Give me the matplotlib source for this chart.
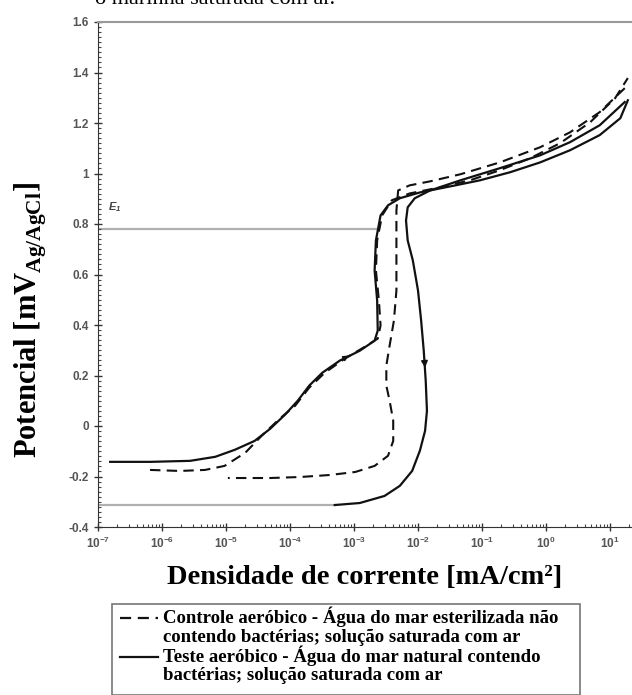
import numpy as np
import matplotlib
matplotlib.use("Agg")
import matplotlib.pyplot as plt
from matplotlib.ticker import MultipleLocator, LogLocator, FixedLocator, FixedFormatter, NullFormatter
from matplotlib.lines import Line2D
from matplotlib.patches import Rectangle

# current density [mA/cm2] and potential [V] for each branch of the loops
teste_ida_i = [1.55e-7, 6.5e-7, 2.75e-6, 6.8e-6, 1.38e-5, 2.8e-5, 4.9e-5, 8.3e-5, 1.32e-4,
               2.0e-4, 3.2e-4, 6.0e-4, 1.23e-3, 2.1e-3, 2.35e-3, 2.3e-3, 2.1e-3, 2.2e-3,
               2.6e-3, 3.4e-3, 5.2e-3, 1.07e-2, 3.2e-2, 9.3e-2, 0.275, 0.81, 2.37, 6.9, 14.5, 19]
teste_ida_e = [-0.142, -0.142, -0.138, -0.122, -0.094, -0.059, -0.011, 0.044, 0.100,
               0.160, 0.211, 0.259, 0.298, 0.338, 0.378, 0.497, 0.616, 0.735,
               0.834, 0.874, 0.902, 0.925, 0.949, 0.973, 1.005, 1.044, 1.092, 1.152, 1.219, 1.29]

teste_volta_i = [17, 6.9, 2.37, 0.81, 0.19, 4.6e-2, 1.55e-2, 8.9e-3, 6.9e-3, 6.5e-3, 6.9e-3,
                 8.3e-3, 1.0e-2, 1.12e-2, 1.23e-2, 1.32e-2, 1.38e-2, 1.29e-2, 1.07e-2,
                 8.1e-3, 5.2e-3, 3.0e-3, 1.23e-3, 5.0e-4]
teste_volta_e = [1.283, 1.191, 1.124, 1.072, 1.021, 0.973, 0.933, 0.902, 0.866, 0.814, 0.735,
                 0.656, 0.537, 0.417, 0.298, 0.179, 0.060, -0.019, -0.098,
                 -0.178, -0.237, -0.277, -0.305, -0.313]

controle_ida_i = [6.5e-7, 1.9e-6, 4.7e-6, 9.5e-6, 2.0e-5, 3.6e-5, 6.9e-5, 1.2e-4, 2.0e-4,
                  3.5e-4, 7.2e-4, 1.48e-3, 2.35e-3, 2.6e-3, 2.45e-3, 2.2e-3, 2.3e-3,
                  2.75e-3, 3.9e-3, 7.4e-3, 2.2e-2, 6.5e-2, 0.19, 0.56, 1.66, 4.9, 12, 19]
controle_ida_e = [-0.174, -0.178, -0.174, -0.158, -0.106, -0.039, 0.029, 0.080, 0.152,
                  0.211, 0.267, 0.314, 0.346, 0.398, 0.497, 0.616, 0.735,
                  0.834, 0.894, 0.921, 0.945, 0.973, 1.013, 1.060, 1.120, 1.203, 1.298, 1.378]

controle_volta_i = [17, 6.9, 2.37, 0.81, 0.19, 4.6e-2, 1.55e-2, 7.4e-3, 4.9e-3, 4.6e-3, 4.6e-3,
                    4.6e-3, 4.2e-3, 3.6e-3, 3.2e-3, 3.2e-3, 3.6e-3, 4.1e-3, 4.1e-3, 3.4e-3,
                    2.1e-3, 1.05e-3, 4.2e-4, 1.45e-4, 4.9e-5, 1.66e-5, 1.07e-5]
controle_volta_e = [1.338, 1.243, 1.163, 1.104, 1.044, 0.997, 0.969, 0.953, 0.933, 0.854, 0.695,
                    0.537, 0.417, 0.318, 0.239, 0.160, 0.100, 0.021, -0.059, -0.118,
                    -0.158, -0.182, -0.194, -0.202, -0.206, -0.206, -0.206]

e1 = 0.78            # E1 reference potential
e1_end = 2.4e-3      # where the E1 line meets the curves
e_final = -0.313     # end potential of the test reverse scan
e_final_end = 5.0e-4

yticks = [-0.4, -0.2, 0, 0.2, 0.4, 0.6, 0.8, 1, 1.2, 1.4, 1.6]
ytick_labels = ['-0.4', '-0.2', '0', '0.2', '0.4', '0.6', '0.8', '1', '1.2', '1.4', '1.6']

legenda = ['Controle aeróbico - Água do mar esterilizada não\ncontendo bactérias; solução saturada com ar',
           'Teste aeróbico - Água do mar natural contendo\nbactérias; solução saturada com ar']

serif = ['Liberation Serif', 'DejaVu Serif']
sans = ['Liberation Sans', 'DejaVu Sans']

W, H = 632, 695
fig = plt.figure(figsize=(W / 100, H / 100), dpi=100)
ax = fig.add_axes([98 / W, (H - 527) / H, 534 / W, 505 / H])

ax.set_xscale('log')
ax.set_xlim(1e-7, 10 ** (-7 + 534 / 64))
ax.set_ylim(-0.4, 1.6)

# reference potentials
ax.plot([1e-7, e1_end], [e1, e1], color='#b0b0b0', lw=1.6, zorder=1)
ax.plot([1e-7, e_final_end], [e_final, e_final], color='#b0b0b0', lw=1.6, zorder=1)
ax.text(1.45e-7, 0.855, r'$\mathdefault{E_1}$', fontsize=8, color='#444444',
        family=sans, fontweight='bold', fontstyle='italic')

dash = (0, (5, 3))
ax.plot(controle_ida_i, controle_ida_e, color='#111111', lw=1.5, ls=dash)
ax.plot(controle_volta_i, controle_volta_e, color='#111111', lw=1.5, ls=dash)
ax.plot(teste_ida_i, teste_ida_e, color='#111111', lw=1.6)
ax.plot(teste_volta_i, teste_volta_e, color='#111111', lw=1.6)

# scan direction arrows
ax.annotate('', xy=(1.3e-2, 0.22), xytext=(1.26e-2, 0.26),
            arrowprops=dict(arrowstyle='-|>', color='#111111', lw=1, mutation_scale=10))
ax.annotate('', xy=(9.0e-4, 0.285), xytext=(7.0e-4, 0.268),
            arrowprops=dict(arrowstyle='-|>', color='#111111', lw=1, mutation_scale=8))

ax.spines['right'].set_visible(False)
ax.spines['top'].set_color('#999999')
ax.spines['top'].set_linewidth(1.5)
ax.spines['left'].set_color('#333333')
ax.spines['bottom'].set_color('#333333')

ax.yaxis.set_major_locator(FixedLocator(yticks))
ax.yaxis.set_major_formatter(FixedFormatter(ytick_labels))
ax.yaxis.set_minor_locator(MultipleLocator(0.02))
ax.xaxis.set_major_locator(LogLocator(base=10, numticks=20))
ax.xaxis.set_minor_locator(LogLocator(base=10, subs=np.arange(2, 10), numticks=20))
ax.xaxis.set_minor_formatter(NullFormatter())
ax.tick_params(which='major', direction='inout', length=6, width=1, color='#333333',
               labelsize=8.5, labelcolor='#555555', top=False, right=False)
ax.tick_params(which='minor', direction='in', length=2.5, width=0.8, color='#444444',
               top=False, right=False)
for lab in ax.get_xticklabels() + ax.get_yticklabels():
    lab.set_family(sans)
    lab.set_fontweight('bold')

ax.set_xlabel('Densidade de corrente [mA/cm²]', family=serif, fontweight='bold',
              fontsize=20.5)
ax.xaxis.set_label_coords(267 / 534, -(578 - 527) / 505)
ax.xaxis.label.set_va('center')
ax.set_ylabel(r'Potencial [mV$_{\mathdefault{Ag/AgCl}}$]', family=serif, fontweight='bold',
              fontsize=22)
ax.yaxis.set_label_coords(-(98 - 31) / 534, (527 - 320) / 505)
ax.yaxis.label.set_va('center')

# text line of the page above the chart, cut at the top edge
fig.text(95 / W, 1 - 4 / H, 'o marinha saturada com ar.', family=serif, fontsize=16,
         va='baseline', ha='left')

# legend box drawn in figure pixels
box_x0, box_x1, box_top = 112, 580, 604
fig.add_artist(Rectangle((box_x0 / W, 0), (box_x1 - box_x0) / W, (H - box_top) / H,
                         transform=fig.transFigure, fill=False, edgecolor='#777777', lw=1.2))
estilos = [dash, '-']
bases = [[623, 642], [662, 680]]
for txt, st, yy in zip(legenda, estilos, bases):
    fig.add_artist(Line2D([120 / W, 158 / W], [(H - yy[0] + 5) / H] * 2, color='#111111',
                          lw=1.6, ls=st, transform=fig.transFigure))
    for linha, yb in zip(txt.split('\n'), yy):
        fig.text(163 / W, (H - yb) / H, linha, family=serif, fontweight='bold',
                 fontsize=13.5, va='baseline', ha='left')

fig.savefig('out.png', dpi=100)
